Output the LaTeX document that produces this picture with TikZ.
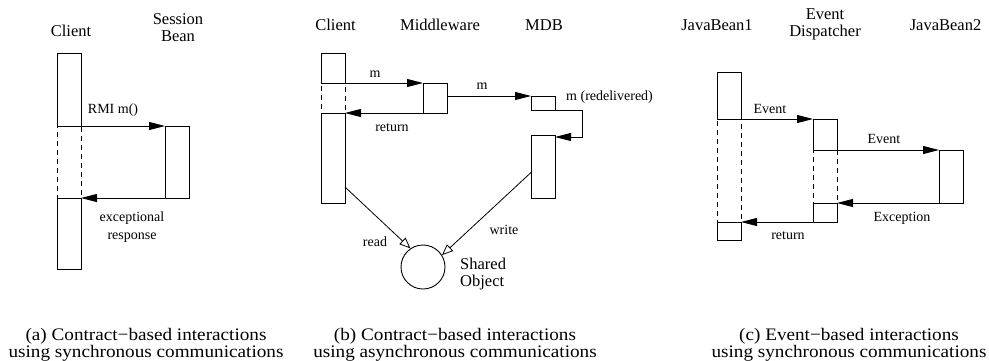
\documentclass[tikz,border=0pt]{standalone}
\usepackage{fontspec}
\setmainfont{Liberation Serif}
\newfontfamily\capfont[FakeStretch=1.09]{Liberation Serif}
\usetikzlibrary{arrows.meta,calc}
\begin{document}
\begin{tikzpicture}[x=1pt,y=-1pt,
 lifebox/.style={draw, line width=0.9pt, anchor=north west, minimum width=24pt, inner sep=0pt, outer sep=0pt},
 dashbox/.style={lifebox, dash pattern=on 5pt off 4pt},
 msg/.style={line width=0.9pt, -{Triangle[length=16pt,width=8pt]}},
 use/.style={line width=0.8pt, -{Triangle[open,length=11pt,width=9pt]}},
 head/.style={font=\fontsize{16.5}{17}\selectfont, align=center, inner sep=0pt},
 lbl/.style={font=\fontsize{14}{17.5}\selectfont, align=center, inner sep=0pt},
 captext/.style={font=\capfont\fontsize{17.6}{17}\selectfont, align=center, inner sep=0pt}]
\useasboundingbox (0,0) rectangle (989,360);

% ---------- panel (a)
\node[lifebox, minimum height=73pt] (a1) at (57,53) {};
\node[dashbox, minimum height=72pt] (ad) at (57,126) {};
\node[lifebox, minimum height=71pt] (a2) at (57,198) {};
\node[lifebox, minimum height=72pt] (sb) at (165,126) {};
\node[head] (ha1) at (71,31) {Client};
\node[head] (ha2) at (178,27.5) {Session\\Bean};
\draw[msg] (a1.south east) -- (sb.north west);
\draw[msg] (sb.south west) -- (a2.north east);
\node[lbl] (la1) at (113,110) {RMI m()};
\node[lbl] (la2) at (132,227) {exceptional\\response};

% ---------- panel (b)
\node[lifebox, minimum height=30pt] (b1) at (321,53) {};
\node[dashbox, minimum height=30pt] (bd) at (321,83) {};
\node[lifebox, minimum height=90pt] (b2) at (321,113) {};
\node[lifebox, minimum height=30pt] (bm) at (423,83) {};
\node[lifebox, minimum height=14pt] (bs) at (531,96) {};
\node[lifebox, minimum height=63pt] (bl) at (531,135) {};
\node[draw, circle, line width=0.9pt, minimum size=44pt, inner sep=0pt] (obj) at (423,267) {};
\node[head] (hb1) at (335.5,25) {Client};
\node[head] (hb2) at (440,25) {Middleware};
\node[head] (hb3) at (544,25) {MDB};
\draw[msg] (b1.south east) -- (bm.north west);
\draw[msg] (bm.south west) -- (b2.north east);
\draw[msg] (bm.east |- bs.north west) -- (bs.north west);
\draw[msg] (bs.south east) -- ++(27,0) |- ([yshift=-2pt]bl.north east);
\draw[use] ([yshift=16pt]b2.south east) -- (obj.124);
\draw[use] ([yshift=-6pt]bl.west) -- (obj.32);
\node[lbl] (lb1) at (375,74) {m};
\node[lbl] (lb2) at (392,128) {return};
\node[lbl] (lb3) at (482,86) {m};
\node[lbl, anchor=west] (lb4) at (566,97) {m (redelivered)};
\node[lbl] (lb5) at (375,242) {read};
\node[lbl] (lb6) at (504,230) {write};
\node[head, anchor=west, align=left] (lb7) at (460,274) {Shared\\Object};

% ---------- panel (c)
\node[lifebox, minimum height=47pt] (j1) at (717,72) {};
\node[dashbox, minimum height=103pt] (jd) at (717,119) {};
\node[lifebox, minimum height=18pt] (j1b) at (717,222) {};
\node[lifebox, minimum height=31pt] (ed) at (813,119) {};
\node[dashbox, minimum height=53pt] (edd) at (813,150) {};
\node[lifebox, minimum height=19pt] (ed2) at (813,203) {};
\node[lifebox, minimum height=53pt] (j2) at (939,150) {};
\node[head] (hc1) at (717,25) {JavaBean1};
\node[head] (hc2) at (825,24.5) {Event\\Dispatcher};
\node[head] (hc3) at (945.5,25) {JavaBean2};
\draw[msg] (j1.south east) -- (ed.north west);
\draw[msg] (ed.south east) -- (j2.north west);
\draw[msg] (j2.south west) -- (ed2.north east);
\draw[msg] (ed2.south west) -- (j1b.north east);
\node[lbl] (lc1) at (770,109) {Event};
\node[lbl] (lc2) at (884,139) {Event};
\node[lbl] (lc3) at (902,218) {Exception};
\node[lbl] (lc4) at (788,236) {return};

% ---------- captions
\node[captext] (ca) at (146,345) {(a) Contract−based interactions\\using synchronous communications};
\node[captext] (cb) at (455,345) {(b) Contract−based interactions\\using asynchronous communications};
\node[captext] (cc) at (849,345) {(c) Event−based interactions\\using synchronous communications};
\end{tikzpicture}
\end{document}
